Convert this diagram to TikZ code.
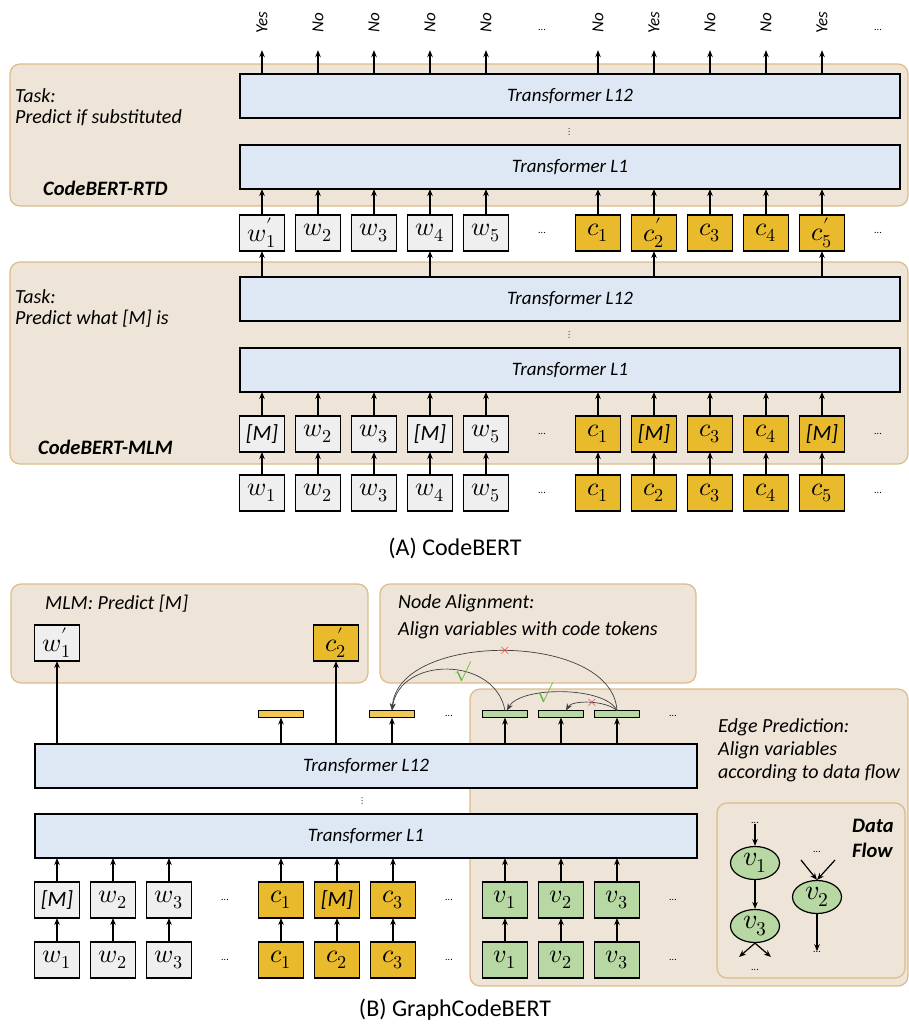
\documentclass[tikz,border=0pt]{standalone}
\usepackage{amsmath}
\usepackage{fontspec}
\usepackage{unicode-math}
\setmainfont{Carlito}
\setmathfont{Latin Modern Math}
\usepackage{xcolor}
\usepackage{tikz}
\usetikzlibrary{positioning,arrows.meta,shapes}

\definecolor{panelfill}{RGB}{238,228,215}
\definecolor{paneldraw}{RGB}{220,188,138}
\definecolor{tfill}{RGB}{221,232,244}
\definecolor{wfill}{RGB}{239,239,239}
\definecolor{cfill}{RGB}{233,186,44}
\definecolor{barfill}{RGB}{242,200,85}
\definecolor{vfill}{RGB}{183,215,163}
\definecolor{okgreen}{RGB}{95,180,60}
\definecolor{badred}{RGB}{235,45,45}

\begin{document}
\begin{tikzpicture}[
    x=1pt, y=-1pt,
    node distance=11pt,
    panel/.style={draw=paneldraw, fill=panelfill, line width=1.2pt, rounded corners=10pt},
    transformer/.style={rectangle, draw, line width=1.6pt, fill=tfill, minimum width=660pt, minimum height=44pt, outer sep=0pt, font=\fontsize{19}{20}\selectfont\itshape},
    wtok/.style={rectangle, draw, line width=1.4pt, fill=wfill, minimum width=45pt, minimum height=36pt, inner sep=0pt, outer sep=0pt, font=\fontsize{26}{26}\selectfont},
    ctok/.style={wtok, fill=cfill},
    vtok/.style={wtok, fill=vfill},
    masktok/.style={font=\fontsize{22}{22}\selectfont\itshape},
    outbar/.style={rectangle, draw, line width=1.3pt, minimum width=45pt, minimum height=7pt, inner sep=0pt, outer sep=0pt},
    tasktext/.style={align=left, anchor=west, inner sep=0pt, font=\fontsize{20}{21}\selectfont\itshape},
    modeltext/.style={align=left, anchor=west, inner sep=0pt, font=\fontsize{20.5}{25}\selectfont\bfseries\itshape},
    outlabel/.style={rotate=90, minimum width=54pt, inner sep=0pt, font=\fontsize{17}{17}\selectfont\itshape},
    dotsnode/.style={inner sep=0pt, font=\fontsize{10}{10}\selectfont},
    captext/.style={font=\fontsize{24}{25}\selectfont},
    markgood/.style={inner sep=0pt, text=okgreen, font=\fontsize{20}{20}\selectfont},
    markbad/.style={inner sep=0pt, text=badred, font=\fontsize{15}{15}\selectfont},
    arrow/.style={-{Stealth[length=7pt,width=5.5pt]}, line width=1.2pt},
    thinarrow/.style={-{Stealth[length=7pt,width=5.5pt]}, line width=0.7pt, draw=black!75},
    flownode/.style={ellipse, draw, line width=1.2pt, fill=vfill, minimum width=49pt, minimum height=33pt, inner sep=0pt, font=\fontsize{28}{28}\selectfont}
  ]
  \useasboundingbox (0,0) rectangle (909,1028);

  % ---------- (A) CodeBERT ----------
  \draw[panel] (10,64) rectangle (908,206);
  \draw[panel] (10,262) rectangle (908,464);

  \node[tasktext] (rtdtask) at (15,107) {Task:\\Predict if substituted};
  \node[modeltext] (rtdname) at (43,188) {CodeBERT-RTD};
  \node[tasktext] (mlmtask) at (15,308) {Task:\\Predict what [M] is};
  \node[modeltext] (mlmname) at (38,447) {CodeBERT-MLM};

  \node[transformer] (rtdtop) at (570,96) {Transformer L12};
  \node[transformer] (rtdbot) at (570,167) {Transformer L1};
  \node[dotsnode] (rtdvdots) at (570,132) {$\vdots$};
  \node[transformer] (mlmtop) at (570,299) {Transformer L12};
  \node[transformer] (mlmbot) at (570,370) {Transformer L1};
  \node[dotsnode] (mlmvdots) at (570,335) {$\vdots$};

  % outputs of the RTD head
  \node[outlabel] (out1) at (262,23) {Yes};
  \node[outlabel] (out2) at (318,23) {No};
  \node[outlabel] (out3) at (374,23) {No};
  \node[outlabel] (out4) at (430,23) {No};
  \node[outlabel] (out5) at (486,23) {No};
  \node[dotsnode] (outdots1) at (542,30) {...};
  \node[outlabel] (out6) at (598,23) {No};
  \node[outlabel] (out7) at (654,23) {Yes};
  \node[outlabel] (out8) at (710,23) {No};
  \node[outlabel] (out9) at (766,23) {No};
  \node[outlabel] (out10) at (822,23) {Yes};
  \node[dotsnode] (outdots2) at (878,30) {...};

  % replaced tokens
  \node[wtok] (rw1) at (262,233) {$w_1'$};
  \node[wtok, right=of rw1] (rw2) {$w_2$};
  \node[wtok, right=of rw2] (rw3) {$w_3$};
  \node[wtok, right=of rw3] (rw4) {$w_4$};
  \node[wtok, right=of rw4] (rw5) {$w_5$};
  \node[dotsnode] (rdots1) at (542,233) {...};
  \node[ctok] (rc1) at (598,233) {$c_1$};
  \node[ctok, right=of rc1] (rc2) {$c_2'$};
  \node[ctok, right=of rc2] (rc3) {$c_3$};
  \node[ctok, right=of rc3] (rc4) {$c_4$};
  \node[ctok, right=of rc4] (rc5) {$c_5'$};
  \node[dotsnode] (rdots2) at (878,233) {...};

  % masked tokens
  \node[wtok, masktok] (mw1) at (262,434) {[M]};
  \node[wtok, right=of mw1] (mw2) {$w_2$};
  \node[wtok, right=of mw2] (mw3) {$w_3$};
  \node[wtok, masktok, right=of mw3] (mw4) {[M]};
  \node[wtok, right=of mw4] (mw5) {$w_5$};
  \node[dotsnode] (mdots1) at (542,434) {...};
  \node[ctok] (mc1) at (598,434) {$c_1$};
  \node[ctok, masktok, right=of mc1] (mc2) {[M]};
  \node[ctok, right=of mc2] (mc3) {$c_3$};
  \node[ctok, right=of mc3] (mc4) {$c_4$};
  \node[ctok, masktok, right=of mc4] (mc5) {[M]};
  \node[dotsnode] (mdots2) at (878,434) {...};

  % input tokens
  \node[wtok] (iw1) at (262,493) {$w_1$};
  \node[wtok, right=of iw1] (iw2) {$w_2$};
  \node[wtok, right=of iw2] (iw3) {$w_3$};
  \node[wtok, right=of iw3] (iw4) {$w_4$};
  \node[wtok, right=of iw4] (iw5) {$w_5$};
  \node[dotsnode] (idots1) at (542,493) {...};
  \node[ctok] (ic1) at (598,493) {$c_1$};
  \node[ctok, right=of ic1] (ic2) {$c_2$};
  \node[ctok, right=of ic2] (ic3) {$c_3$};
  \node[ctok, right=of ic3] (ic4) {$c_4$};
  \node[ctok, right=of ic4] (ic5) {$c_5$};
  \node[dotsnode] (idots2) at (878,493) {...};

  \draw[arrow] (rw1 |- rtdtop.north) -- (out1.west);
  \draw[arrow] (rw2 |- rtdtop.north) -- (out2.west);
  \draw[arrow] (rw3 |- rtdtop.north) -- (out3.west);
  \draw[arrow] (rw4 |- rtdtop.north) -- (out4.west);
  \draw[arrow] (rw5 |- rtdtop.north) -- (out5.west);
  \draw[arrow] (rc1 |- rtdtop.north) -- (out6.west);
  \draw[arrow] (rc2 |- rtdtop.north) -- (out7.west);
  \draw[arrow] (rc3 |- rtdtop.north) -- (out8.west);
  \draw[arrow] (rc4 |- rtdtop.north) -- (out9.west);
  \draw[arrow] (rc5 |- rtdtop.north) -- (out10.west);

  \draw[arrow] (rw1) -- (rw1 |- rtdbot.south);
  \draw[arrow] (rw2) -- (rw2 |- rtdbot.south);
  \draw[arrow] (rw3) -- (rw3 |- rtdbot.south);
  \draw[arrow] (rw4) -- (rw4 |- rtdbot.south);
  \draw[arrow] (rw5) -- (rw5 |- rtdbot.south);
  \draw[arrow] (rc1) -- (rc1 |- rtdbot.south);
  \draw[arrow] (rc2) -- (rc2 |- rtdbot.south);
  \draw[arrow] (rc3) -- (rc3 |- rtdbot.south);
  \draw[arrow] (rc4) -- (rc4 |- rtdbot.south);
  \draw[arrow] (rc5) -- (rc5 |- rtdbot.south);

  \draw[arrow] (rw1 |- mlmtop.north) -- (rw1);
  \draw[arrow] (rw4 |- mlmtop.north) -- (rw4);
  \draw[arrow] (rc2 |- mlmtop.north) -- (rc2);
  \draw[arrow] (rc5 |- mlmtop.north) -- (rc5);

  \draw[arrow] (mw1) -- (mw1 |- mlmbot.south);
  \draw[arrow] (mw2) -- (mw2 |- mlmbot.south);
  \draw[arrow] (mw3) -- (mw3 |- mlmbot.south);
  \draw[arrow] (mw4) -- (mw4 |- mlmbot.south);
  \draw[arrow] (mw5) -- (mw5 |- mlmbot.south);
  \draw[arrow] (mc1) -- (mc1 |- mlmbot.south);
  \draw[arrow] (mc2) -- (mc2 |- mlmbot.south);
  \draw[arrow] (mc3) -- (mc3 |- mlmbot.south);
  \draw[arrow] (mc4) -- (mc4 |- mlmbot.south);
  \draw[arrow] (mc5) -- (mc5 |- mlmbot.south);

  \draw[arrow] (iw1) -- (mw1);
  \draw[arrow] (iw2) -- (mw2);
  \draw[arrow] (iw3) -- (mw3);
  \draw[arrow] (iw4) -- (mw4);
  \draw[arrow] (iw5) -- (mw5);
  \draw[arrow] (ic1) -- (mc1);
  \draw[arrow] (ic2) -- (mc2);
  \draw[arrow] (ic3) -- (mc3);
  \draw[arrow] (ic4) -- (mc4);
  \draw[arrow] (ic5) -- (mc5);

  \node[captext] (capa) at (455,548) {(A) CodeBERT};

  % ---------- (B) GraphCodeBERT ----------
  \draw[panel] (11,584) rectangle (368,683);
  \draw[panel] (380,584) rectangle (696,683);
  \draw[panel] (470,689) rectangle (908,986);
  \draw[panel] (717,803) rectangle (905,978);

  \node[tasktext] (predhead) at (45,604) {MLM: Predict [M]};
  \node[tasktext, font=\fontsize{20}{27}\selectfont\itshape] (alignhead) at (398,617) {Node Alignment:\\Align variables with code tokens};
  \node[tasktext, font=\fontsize{20}{23}\selectfont\itshape] (edgehead) at (718,750) {Edge Prediction:\\Align variables\\according to data flow};
  \node[modeltext] (flowhead) at (852,838) {Data\\Flow};

  \node[transformer, minimum width=662pt] (gtop) at (366,766) {Transformer L12};
  \node[transformer, minimum width=662pt] (gbot) at (366,836) {Transformer L1};
  \node[dotsnode] (gvdots) at (363,801) {$\vdots$};

  \node[wtok] (predw) at (57,643) {$w_1'$};
  \node[ctok] (predc) at (336,643) {$c_2'$};

  \node[outbar, fill=barfill] (ybar1) at (281,714) {};
  \node[outbar, fill=barfill] (ybar2) at (392,714) {};
  \node[dotsnode] (bardots1) at (449,716) {...};
  \node[outbar, fill=vfill] (gbar1) at (505,714) {};
  \node[outbar, fill=vfill] (gbar2) at (561,714) {};
  \node[outbar, fill=vfill] (gbar3) at (617,714) {};
  \node[dotsnode] (bardots2) at (673,716) {...};

  % masked tokens
  \node[wtok, masktok] (gmw1) at (57,900) {[M]};
  \node[wtok, right=of gmw1] (gmw2) {$w_2$};
  \node[wtok, right=of gmw2] (gmw3) {$w_3$};
  \node[dotsnode] (gmdots1) at (225,900) {...};
  \node[ctok] (gmc1) at (281,900) {$c_1$};
  \node[ctok, masktok, right=of gmc1] (gmc2) {[M]};
  \node[ctok, right=of gmc2] (gmc3) {$c_3$};
  \node[dotsnode] (gmdots2) at (449,900) {...};
  \node[vtok] (gmv1) at (505,900) {$v_1$};
  \node[vtok, right=of gmv1] (gmv2) {$v_2$};
  \node[vtok, right=of gmv2] (gmv3) {$v_3$};
  \node[dotsnode] (gmdots3) at (673,900) {...};

  % input tokens
  \node[wtok] (giw1) at (57,960) {$w_1$};
  \node[wtok, right=of giw1] (giw2) {$w_2$};
  \node[wtok, right=of giw2] (giw3) {$w_3$};
  \node[dotsnode] (gidots1) at (225,960) {...};
  \node[ctok] (gic1) at (281,960) {$c_1$};
  \node[ctok, right=of gic1] (gic2) {$c_2$};
  \node[ctok, right=of gic2] (gic3) {$c_3$};
  \node[dotsnode] (gidots2) at (449,960) {...};
  \node[vtok] (giv1) at (505,960) {$v_1$};
  \node[vtok, right=of giv1] (giv2) {$v_2$};
  \node[vtok, right=of giv2] (giv3) {$v_3$};
  \node[dotsnode] (gidots3) at (673,960) {...};

  \draw[arrow] (predw |- gtop.north) -- (predw);
  \draw[arrow] (predc |- gtop.north) -- (predc);
  \draw[arrow] (ybar1 |- gtop.north) -- (ybar1);
  \draw[arrow] (ybar2 |- gtop.north) -- (ybar2);
  \draw[arrow] (gbar1 |- gtop.north) -- (gbar1);
  \draw[arrow] (gbar2 |- gtop.north) -- (gbar2);
  \draw[arrow] (gbar3 |- gtop.north) -- (gbar3);

  \draw[arrow] (gmw1) -- (gmw1 |- gbot.south);
  \draw[arrow] (gmw2) -- (gmw2 |- gbot.south);
  \draw[arrow] (gmw3) -- (gmw3 |- gbot.south);
  \draw[arrow] (gmc1) -- (gmc1 |- gbot.south);
  \draw[arrow] (gmc2) -- (gmc2 |- gbot.south);
  \draw[arrow] (gmc3) -- (gmc3 |- gbot.south);
  \draw[arrow] (gmv1) -- (gmv1 |- gbot.south);
  \draw[arrow] (gmv2) -- (gmv2 |- gbot.south);
  \draw[arrow] (gmv3) -- (gmv3 |- gbot.south);

  \draw[arrow] (giw1) -- (gmw1);
  \draw[arrow] (giw2) -- (gmw2);
  \draw[arrow] (giw3) -- (gmw3);
  \draw[arrow] (gic1) -- (gmc1);
  \draw[arrow] (gic2) -- (gmc2);
  \draw[arrow] (gic3) -- (gmc3);
  \draw[arrow] (giv1) -- (gmv1);
  \draw[arrow] (giv2) -- (gmv2);
  \draw[arrow] (giv3) -- (gmv3);

  % alignment and edge links
  \draw[thinarrow] (gbar3.north) .. controls (612,631) and (398,631) .. (ybar2.north)
    node[pos=0.5, markbad] {$\times$};
  \draw[thinarrow] (gbar1.north) .. controls (495,656) and (400,656) .. (ybar2.north)
    node[pos=0.4, markgood] {$\surd$};
  \draw[thinarrow] (gbar3.north) .. controls (605,686) and (520,686) .. ([xshift=2pt]gbar1.north)
    node[pos=0.62, markgood] {$\surd$};
  \draw[thinarrow] (gbar3.north) .. controls (605,700) and (572,700) .. ([xshift=5pt]gbar2.north)
    node[pos=0.45, markbad] {$\times$};

  % data flow
  \node[flownode] (df1) at (755,863) {$v_1$};
  \node[flownode] (df3) at (755,926) {$v_3$};
  \node[flownode] (df2) at (817,897) {$v_2$};
  \node[dotsnode] (df1in) at (755,823) {...};
  \node[dotsnode] (df2in) at (817,852) {...};
  \node[dotsnode] (df2out) at (817,952) {...};
  \node[dotsnode] (df3out) at (755,970) {...};
  \coordinate (df2l) at (801,860);
  \coordinate (df2r) at (835,860);
  \coordinate (df3l) at (739,957);
  \coordinate (df3r) at (771,957);
  \draw[arrow] (df1in) -- (df1);
  \draw[arrow] (df1) -- (df3);
  \draw[arrow] (df2l) -- (df2.north);
  \draw[arrow] (df2r) -- (df2.north);
  \draw[arrow] (df2) -- (df2out);
  \draw[arrow] (df3.south) -- (df3l);
  \draw[arrow] (df3.south) -- (df3r);

  \node[captext] (capb) at (455,1010) {(B) GraphCodeBERT};
\end{tikzpicture}
\end{document}
